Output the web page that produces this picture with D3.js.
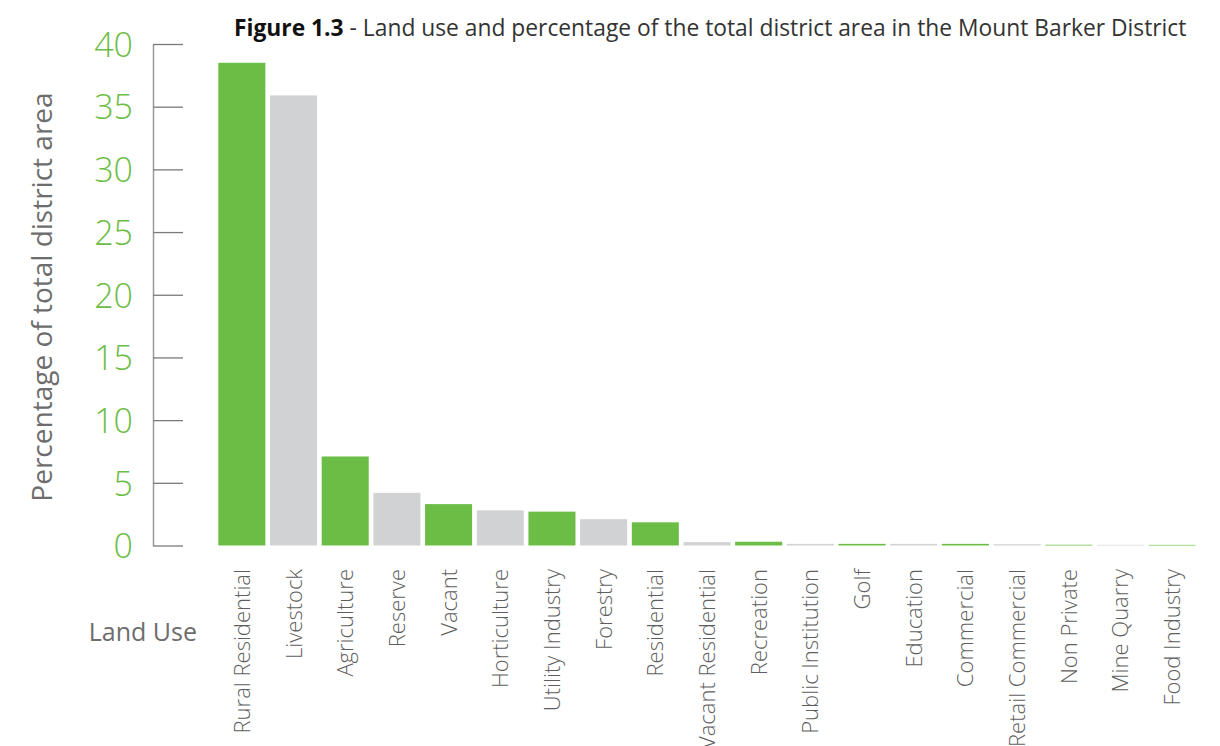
<!DOCTYPE html>
<html lang="en">

<head>
	<meta charset="UTF-8">
	<script type="text/javascript" src="https://cdnjs.cloudflare.com/ajax/libs/d3/7.8.5/d3.min.js"></script>
	<title>Figure 1.3</title>
	<style>
		body { margin: 0; background: #fff; }
		text { font-family: "Open Sans", sans-serif; }
	</style>
</head>

<body>
	<div id="draw-here"></div>
	<script>
		/*Data*/
		var landUse = ["Rural Residential", "Livestock", "Agriculture", "Reserve", "Vacant",
			"Horticulture", "Utility Industry", "Forestry", "Residential", "Vacant Residential",
			"Recreation", "Public Institution", "Golf", "Education", "Commercial",
			"Retail Commercial", "Non Private", "Mine Quarry", "Food Industry"];
		var percentArea = [38.5, 35.9, 7.1, 4.2, 3.3, 2.8, 2.7, 2.1, 1.85, 0.27,
			0.3, 0.13, 0.13, 0.13, 0.13, 0.1, 0.06, 0.05, 0.05];
		var yTicks = [0, 5, 10, 15, 20, 25, 30, 35, 40];

		/*Size of chart*/
		var w = 1220;
		var h = 746;
		var green = "#6cbd45";
		var grey = "#d1d2d4";

		var svg = d3.select("#draw-here")
			.append("svg")
			.attr("width", w)
			.attr("height", h);

		var x = d3.scaleBand()
			.domain(landUse)
			.range([216, 1198])
			.paddingInner(0.09)
			.paddingOuter(0.045);

		var y = d3.scaleLinear()
			.domain([0, 40])
			.range([545.5, 44]);

		/*y axis: grey line with short ticks and big green numbers*/
		var yAxis = svg.append("g")
			.attr("transform", "translate(153,0)")
			.call(d3.axisRight(y).tickValues(yTicks).tickSize(30).tickSizeOuter(0).tickFormat(d3.format("d")));
		yAxis.select(".domain").attr("stroke", "#9a9a9a").attr("stroke-width", 1.5);
		yAxis.selectAll(".tick line").attr("stroke", "#7a7a7a").attr("stroke-width", 1.3);
		yAxis.selectAll(".tick text")
			.attr("x", -20)
			.attr("dy", "0.36em")
			.attr("text-anchor", "end")
			.attr("fill", green)
			.attr("font-size", "34px")
			.attr("font-weight", 300)
			.attr("font-family", "'Open Sans', sans-serif");

		/*bars, alternating green and grey*/
		svg.selectAll("rect.bar")
			.data(percentArea)
			.enter()
			.append("rect")
			.attr("class", "bar")
			.attr("x", function(d, i) { return x(landUse[i]); })
			.attr("y", function(d) { return y(d); })
			.attr("width", x.bandwidth())
			.attr("height", function(d) { return y(0) - y(d); })
			.attr("fill", function(d, i) { return i % 2 === 0 ? green : grey; });

		/*rotated category labels*/
		svg.selectAll("text.cat")
			.data(landUse)
			.enter()
			.append("text")
			.attr("class", "cat")
			.attr("transform", function(d) {
				return "translate(" + (x(d) + x.bandwidth() / 2 + 8) + ",569) rotate(-90)";
			})
			.attr("text-anchor", "end")
			.attr("font-size", "22px")
			.attr("font-weight", 300)
			.attr("fill", "#5e5e5e")
			.text(function(d) { return d; });

		/*axis titles*/
		svg.append("text")
			.attr("transform", "translate(52,297) rotate(-90)")
			.attr("text-anchor", "middle")
			.attr("font-size", "28px")
			.attr("fill", "#6d6d6d")
			.text("Percentage of total district area");

		svg.append("text")
			.attr("x", 197)
			.attr("y", 641)
			.attr("text-anchor", "end")
			.attr("font-size", "25px")
			.attr("fill", "#6d6d6d")
			.text("Land Use");

		/*figure caption*/
		var title = svg.append("text")
			.attr("x", 234)
			.attr("y", 36)
			.attr("font-size", "22.8px")
			.attr("fill", "#333");
		title.append("tspan").attr("font-weight", "bold").attr("fill", "#111").text("Figure 1.3");
		title.append("tspan").text(" - Land use and percentage of the total district area in the Mount Barker District");
	</script>
</body>

</html>
